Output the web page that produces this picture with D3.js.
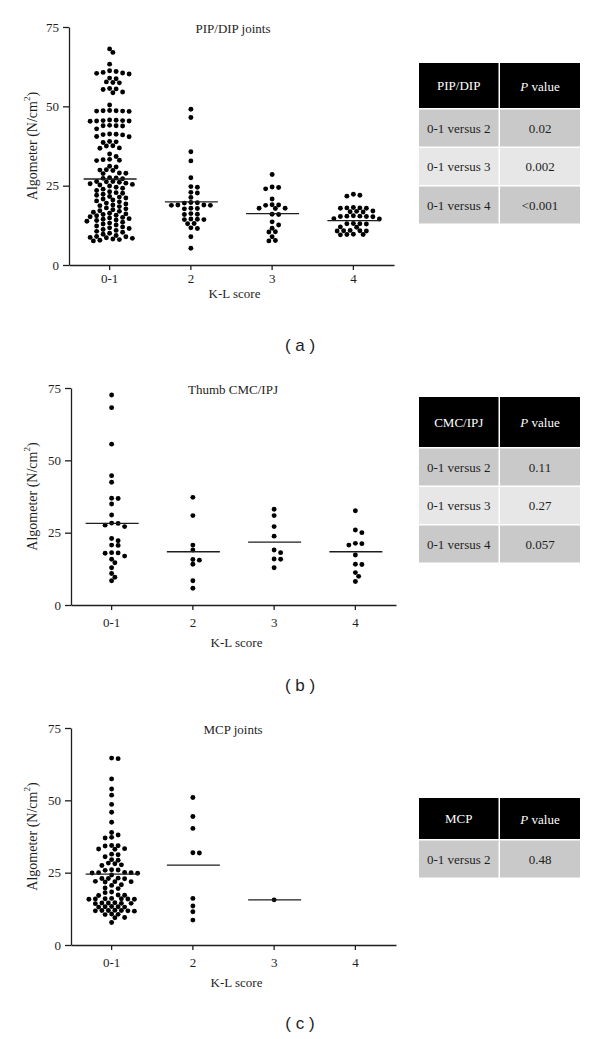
<!DOCTYPE html>
<html><head><meta charset="utf-8">
<script src="https://cdn.jsdelivr.net/npm/d3@7"></script>
<style>body{margin:0;background:#fff}</style>
</head><body>
<svg id="c" width="600" height="1039"></svg>
<script>
// ---------- DATA ----------
const categories = ["0-1", "2", "3", "4"];
const yTicks = [0, 25, 50, 75];
const xTitle = "K-L score";

// Panel (a) PIP/DIP joints
const pipDip01 = [68.1, 67.0, 63.3, 61.2, 61.0, 60.7, 60.5, 60.4, 60.2, 58.9, 58.7, 57.7, 57.5, 57.4, 55.6, 55.5, 55.3, 54.5, 54.3, 50.4,
  48.7, 48.6, 48.6, 48.5, 48.5, 48.4, 45.7, 45.6, 45.5, 45.5, 45.4, 45.4, 45.3, 44.0, 43.9, 43.9, 43.8, 42.9,
  41.3, 41.2, 41.1, 41.0, 40.5, 40.4, 38.9, 38.8, 38.6, 37.6, 37.5, 36.9, 36.8, 35.0, 34.2, 33.3, 33.2, 33.0, 32.9,
  31.1, 30.9, 30.0, 29.9, 29.8, 29.0, 28.9, 28.8, 27.5, 27.4, 27.3, 27.2, 26.3, 26.3, 26.2, 26.1,
  25.8, 25.6, 25.4, 25.2, 24.9, 24.5, 24.2, 23.9, 23.5, 23.1, 22.8, 22.6, 22.3, 22.0, 21.6, 21.4, 21.1, 20.8, 20.5, 20.2,
  19.9, 19.5, 19.2, 18.9, 18.7, 18.4, 18.0, 17.7, 17.4, 17.1, 16.9, 16.6, 16.3, 16.1, 15.9, 15.7, 15.5, 15.2, 15.0, 14.8,
  14.6, 14.4, 14.2, 14.0, 13.8, 13.5, 13.2, 12.9, 12.6, 12.3, 12.0, 11.7, 11.5, 11.2, 10.9, 10.6, 10.3, 10.0, 9.7, 9.3,
  9.0, 8.9, 8.7, 8.6, 8.4, 8.2, 8.0, 7.8, 7.6];
const pipDip2 = [49.1, 46.5, 35.7, 32.8, 27.5, 24.7, 24.5, 22.9, 22.7, 21.3, 19.7, 19.6, 19.5, 18.9, 18.9, 18.8, 18.8, 17.9, 17.8, 17.7,
  16.2, 16.0, 15.9, 14.5, 14.4, 14.3, 14.3, 13.1, 13.0, 11.7, 11.5, 8.9, 5.3];
const pipDip3 = [28.5, 24.6, 24.4, 24.0, 20.8, 19.0, 18.9, 18.8, 17.9, 17.9, 17.8, 16.0, 15.9, 13.6, 12.6, 11.6, 10.5, 10.4, 8.9, 7.7, 7.6];
const pipDip4 = [22.3, 22.0, 21.7, 18.1, 18.0, 18.0, 17.9, 17.9, 17.0, 16.9, 16.8, 16.7, 15.5, 15.4, 15.4, 15.3, 15.3, 15.2, 14.6, 14.5,
  13.1, 13.0, 13.0, 12.9, 12.0, 11.9, 10.9, 10.8, 10.8, 10.7, 10.7, 9.7, 9.6, 9.6, 9.5];
const pipDipMedians = [27.1, 19.9, 16.2, 14.0];
const pipDipHead = "PIP/DIP";
const pipDipComparisons = ["0-1 versus 2", "0-1 versus 3", "0-1 versus 4"];
const pipDipP = ["0.02", "0.002", "<0.001"];

// Panel (b) Thumb CMC/IPJ
const cmc01 = [72.6, 68.2, 55.6, 44.7, 42.4, 36.9, 36.8, 34.9, 31.1, 28.3, 28.2, 27.6, 27.1, 23.0, 22.2, 20.7, 20.6, 18.1, 18.0, 17.9,
  16.9, 15.8, 14.6, 12.9, 10.9, 9.6, 8.4];
const cmc2 = [37.2, 30.9, 20.7, 19.0, 15.7, 15.5, 14.1, 8.4, 5.8];
const cmc3 = [33.1, 30.9, 27.1, 23.8, 19.0, 18.1, 15.9, 15.8, 12.9];
const cmc4 = [32.6, 25.9, 25.0, 21.3, 21.2, 20.7, 17.3, 14.1, 14.0, 11.2, 9.9, 8.1];
const cmcMedians = [28.2, 18.4, 21.7, 18.4];
const cmcHead = "CMC/IPJ";
const cmcComparisons = ["0-1 versus 2", "0-1 versus 3", "0-1 versus 4"];
const cmcP = ["0.11", "0.27", "0.057"];

// Panel (c) MCP joints
const mcp01 = [64.6, 64.4, 57.4, 53.9, 51.8, 48.6, 45.9, 42.4, 38.9, 38.0, 37.2, 37.0, 34.4, 34.3, 34.2, 33.3, 33.2, 33.1, 31.4, 31.2,
  30.5, 29.5, 29.3, 28.3, 28.1, 27.7, 27.5, 26.0, 25.9, 25.8, 25.1, 25.0, 25.0, 24.9, 24.8, 24.2, 23.1, 23.0, 23.0, 22.9,
  22.0, 21.9, 21.9, 21.8, 20.8, 20.6, 19.7, 19.5, 18.3, 18.1, 17.3, 17.2, 17.1, 16.1, 16.0, 16.0, 15.9, 15.9, 15.8, 15.8,
  14.6, 14.5, 14.5, 14.4, 14.4, 14.3, 13.3, 13.2, 13.2, 13.1, 13.1, 12.0, 11.9, 11.9, 11.9, 11.8, 11.8, 11.7,
  10.7, 10.6, 10.5, 9.5, 9.4, 7.8];
const mcp2 = [51.0, 44.4, 40.3, 31.9, 31.8, 16.1, 13.5, 11.5, 8.6];
const mcp3 = [15.6];
const mcp4 = [];
const mcpMedians = [24.5, 27.6, 15.6, null];
const mcpHead = "MCP";
const mcpComparisons = ["0-1 versus 2"];
const mcpP = ["0.48"];

// ---------- DRAWING ----------
const svg = d3.select("#c");
const SERIF = "'Liberation Serif','Times New Roman',serif";
const INK = "#1e1e1e";

// beeswarm on a half-column grid
function swarm(values, y, half, D) {
  const pts = values.map(v => ({ v, y: y(v) })).sort((a, b) => a.y - b.y);
  const order = [0];
  for (let k = 1; k < 40; k++) order.push(k, -k);
  const placed = [];
  pts.forEach(p => {
    for (const k of order) {
      const dx = k * half;
      if (placed.every(q => (q.dx - dx) ** 2 + (q.y - p.y) ** 2 >= D * D - 0.01)) {
        p.dx = dx; break;
      }
    }
    placed.push(p);
  });
  return placed;
}

function drawPanel(cfg) {
  const g = svg.append("g");
  const x = d3.scaleBand().domain(categories).range([cfg.left, cfg.right]);
  const y = d3.scaleLinear().domain([0, 75]).range([cfg.bottom, cfg.top]);

  const ya = g.append("g").attr("transform", `translate(${cfg.left},0)`)
    .call(d3.axisLeft(y).tickValues(yTicks).tickSize(6).tickSizeOuter(0).tickPadding(4));
  const xa = g.append("g").attr("transform", `translate(0,${cfg.bottom})`)
    .call(d3.axisBottom(x).tickSize(5).tickSizeOuter(0).tickPadding(cfg.xPad));
  [ya, xa].forEach(a => {
    a.selectAll("path,line").attr("stroke", INK).attr("stroke-width", 1.3);
    a.selectAll("text").attr("font-family", SERIF).attr("font-size", 13).attr("fill", INK);
  });

  const yl = g.append("text")
    .attr("transform", `translate(32,${(cfg.top + cfg.bottom) / 2}) rotate(-90)`)
    .attr("text-anchor", "middle").attr("dominant-baseline", "central")
    .attr("font-family", SERIF).attr("font-size", 14).attr("fill", INK);
  yl.append("tspan").text("Algometer (N/cm");
  yl.append("tspan").attr("font-size", 9).attr("dy", -5).text("2");
  yl.append("tspan").attr("dy", 5).text(")");

  g.append("text").attr("x", (cfg.left + cfg.right) / 2 + 3).attr("y", cfg.bottom + cfg.xTitleOff)
    .attr("text-anchor", "middle").attr("dominant-baseline", "central")
    .attr("font-family", SERIF).attr("font-size", 13).attr("fill", INK).text(xTitle);

  g.append("text").attr("x", 233).attr("y", cfg.top + 1)
    .attr("text-anchor", "middle").attr("dominant-baseline", "central")
    .attr("font-family", SERIF).attr("font-size", 13).attr("fill", INK).text(cfg.title);

  cfg.groups.forEach((vals, i) => {
    const cx = x(categories[i]) + x.bandwidth() / 2;
    const pts = swarm(vals, y, 3.25, 4.6);
    g.append("g").selectAll("circle").data(pts).join("circle")
      .attr("cx", d => cx + d.dx).attr("cy", d => d.y).attr("r", 2.45).attr("fill", "#000");
    const m = cfg.medians[i];
    if (m != null) {
      g.append("line").attr("x1", cx - 26).attr("x2", cx + 27)
        .attr("y1", y(m)).attr("y2", y(m)).attr("stroke", INK).attr("stroke-width", 1.3);
    }
  });

  g.append("text").attr("x", 300).attr("y", cfg.letterY)
    .attr("text-anchor", "middle").attr("dominant-baseline", "central")
    .attr("font-family", "'Liberation Sans',Arial,sans-serif").attr("font-size", 17).attr("fill", INK)
    .text(`( ${cfg.letter} )`);

  const t = cfg.table;
  const cx1 = 419, cw1 = 79.5, cx2 = 500, cw2 = 80;
  const tg = svg.append("g");
  tg.append("rect").attr("x", cx1).attr("y", t.top).attr("width", cw1).attr("height", t.headH).attr("fill", "#000");
  tg.append("rect").attr("x", cx2).attr("y", t.top).attr("width", cw2).attr("height", t.headH).attr("fill", "#000");
  tg.append("text").attr("x", cx1 + cw1 / 2).attr("y", t.top + t.headH / 2)
    .attr("text-anchor", "middle").attr("dominant-baseline", "central")
    .attr("font-family", SERIF).attr("font-size", 13).attr("fill", "#fff").text(t.head);
  const ph = tg.append("text").attr("x", cx2 + cw2 / 2).attr("y", t.top + t.headH / 2)
    .attr("text-anchor", "middle").attr("dominant-baseline", "central")
    .attr("font-family", SERIF).attr("font-size", 13).attr("fill", "#fff");
  ph.append("tspan").attr("font-style", "italic").text("P");
  ph.append("tspan").text(" value");
  const rowFill = ["#c9c9c9", "#e7e7e7", "#c9c9c9"];
  t.comps.forEach((c, i) => {
    const ry = t.top + t.headH + 1.5 + i * (t.rowH + 1.5);
    tg.append("rect").attr("x", cx1).attr("y", ry).attr("width", cw1).attr("height", t.rowH).attr("fill", rowFill[i]);
    tg.append("rect").attr("x", cx2).attr("y", ry).attr("width", cw2).attr("height", t.rowH).attr("fill", rowFill[i]);
    tg.append("text").attr("x", cx1 + cw1 / 2).attr("y", ry + t.rowH / 2)
      .attr("text-anchor", "middle").attr("dominant-baseline", "central")
      .attr("font-family", SERIF).attr("font-size", 13).attr("fill", INK).text(c);
    tg.append("text").attr("x", cx2 + cw2 / 2).attr("y", ry + t.rowH / 2)
      .attr("text-anchor", "middle").attr("dominant-baseline", "central")
      .attr("font-family", SERIF).attr("font-size", 13).attr("fill", INK).text(t.ps[i]);
  });
}

drawPanel({
  title: "PIP/DIP joints", left: 69, right: 394, top: 27, bottom: 265, xPad: 4, xTitleOff: 28,
  groups: [pipDip01, pipDip2, pipDip3, pipDip4], medians: pipDipMedians, letter: "a", letterY: 345,
  table: { top: 63, headH: 45, rowH: 37, head: pipDipHead, comps: pipDipComparisons, ps: pipDipP }
});
drawPanel({
  title: "Thumb CMC/IPJ", left: 71, right: 396, top: 388, bottom: 605, xPad: 8, xTitleOff: 37,
  groups: [cmc01, cmc2, cmc3, cmc4], medians: cmcMedians, letter: "b", letterY: 685,
  table: { top: 397, headH: 50, rowH: 37, head: cmcHead, comps: cmcComparisons, ps: cmcP }
});
drawPanel({
  title: "MCP joints", left: 71, right: 396, top: 728, bottom: 945, xPad: 8, xTitleOff: 37,
  groups: [mcp01, mcp2, mcp3, mcp4], medians: mcpMedians, letter: "c", letterY: 1023,
  table: { top: 798, headH: 41, rowH: 37, head: mcpHead, comps: mcpComparisons, ps: mcpP }
});
</script>
</body></html>
